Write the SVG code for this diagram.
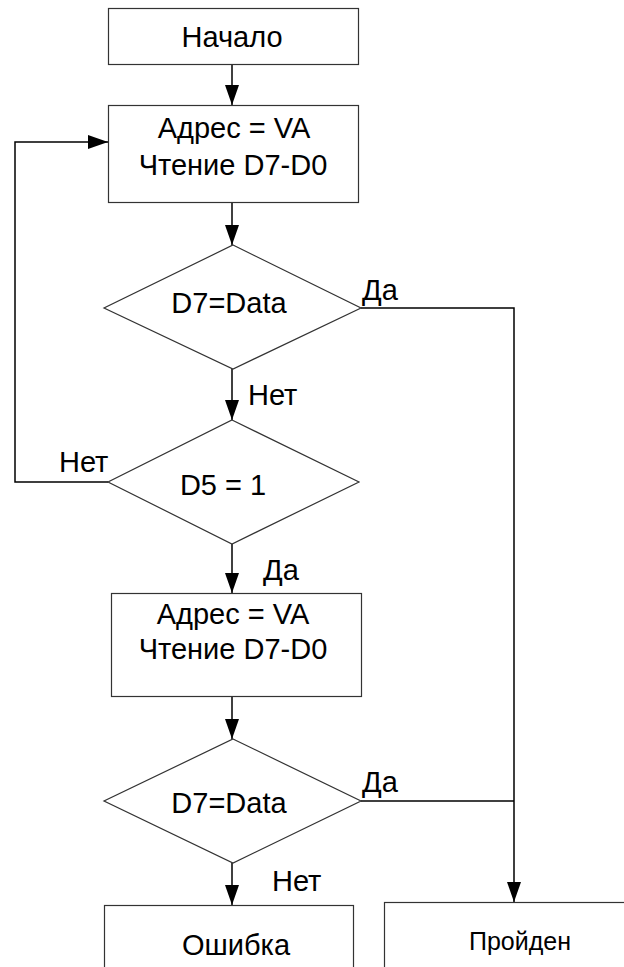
<svg xmlns="http://www.w3.org/2000/svg" width="624" height="967" viewBox="0 0 624 967">
<style>
  .box { fill: #ffffff; stroke: #333333; stroke-width: 1.2; }
  .conn { fill: none; stroke: #000000; stroke-width: 1.5; }
  .t { font-family: "Liberation Sans", Arial, sans-serif; font-size: 29px; fill: #000000; }
  .c { text-anchor: middle; }
</style>
<defs>
  <marker id="arr" markerUnits="userSpaceOnUse" markerWidth="20" markerHeight="14" viewBox="0 0 20 14" refX="20" refY="7" orient="auto">
    <path d="M0,0 L20,7 L0,14 Z" fill="#000000"/>
  </marker>
</defs>
<rect width="624" height="967" fill="#ffffff"/>

<g id="connectors">
  <line class="conn" x1="232" y1="64" x2="232" y2="105" marker-end="url(#arr)"/>
  <line class="conn" x1="232" y1="202" x2="232" y2="245" marker-end="url(#arr)"/>
  <line class="conn" x1="232" y1="369" x2="232" y2="420" marker-end="url(#arr)"/>
  <polyline class="conn" points="108,482 15,482 15,142 108,142" marker-end="url(#arr)"/>
  <line class="conn" x1="232" y1="544" x2="232" y2="593" marker-end="url(#arr)"/>
  <line class="conn" x1="232" y1="696" x2="232" y2="739" marker-end="url(#arr)"/>
  <line class="conn" x1="232" y1="863" x2="232" y2="905" marker-end="url(#arr)"/>
  <polyline class="conn" points="361,308 514,308 514,902" marker-end="url(#arr)"/>
  <line class="conn" x1="361" y1="801" x2="514" y2="801"/>
  <text class="t" x="362" y="300">Да</text>
  <text class="t" x="248" y="405">Нет</text>
  <text class="t" x="59" y="472">Нет</text>
  <text class="t" x="263" y="580">Да</text>
  <text class="t" x="362" y="792">Да</text>
  <text class="t" x="272" y="891">Нет</text>
</g>

<g id="start">
  <rect class="box" x="108.5" y="8.5" width="250" height="56"/>
  <text class="t c" x="232" y="47">Начало</text>
</g>

<g id="read1">
  <rect class="box" x="108.5" y="105.5" width="250" height="97"/>
  <text class="t c" x="234" y="138">Адрес = VA</text>
  <text class="t c" x="233" y="175">Чтение D7-D0</text>
</g>

<g id="check1">
  <polygon class="box" points="233,245 361,308 233,369 104,308"/>
  <text class="t c" x="229" y="313">D7=Data</text>
</g>

<g id="checkD5">
  <polygon class="box" points="232,420 359,482 232,544 108,482"/>
  <text class="t c" x="223" y="495">D5 = 1</text>
</g>

<g id="read2">
  <rect class="box" x="111.5" y="593.5" width="250" height="103"/>
  <text class="t c" x="233" y="624">Адрес = VA</text>
  <text class="t c" x="233" y="659">Чтение D7-D0</text>
</g>

<g id="check2">
  <polygon class="box" points="233,739 361,801 233,863 104,801"/>
  <text class="t c" x="229" y="813">D7=Data</text>
</g>

<g id="error">
  <rect class="box" x="104.5" y="905.5" width="249" height="70"/>
  <text class="t c" x="236" y="955">Ошибка</text>
</g>

<g id="passed">
  <rect class="box" x="384.5" y="902.5" width="250" height="70"/>
  <text class="t c" x="520" y="950" style="font-size:25px">Пройден</text>
</g>
</svg>
